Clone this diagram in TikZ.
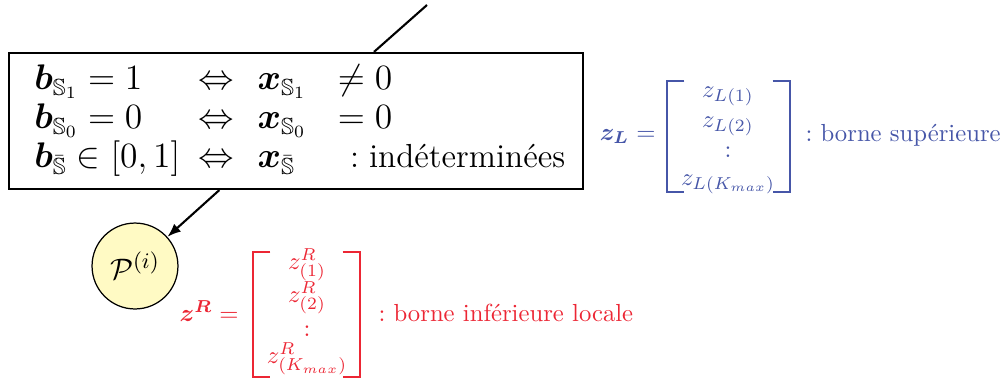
\documentclass[tikz,border=0pt]{standalone}
\usepackage{amsmath,amssymb,bm}
\usetikzlibrary{arrows.meta}
\definecolor{zblue}{RGB}{70,86,168}
\definecolor{zred}{RGB}{236,38,52}
\definecolor{pfill}{RGB}{255,250,196}
\tikzset{
  link/.style={line width=0.85pt},
  brk/.style={line width=0.55pt},
  entry/.style={inner sep=0pt,anchor=base},
}
\newcommand{\cA}[1]{\makebox[66.4pt][l]{$#1$}}
\newcommand{\cB}{\makebox[24pt][l]{$\Leftrightarrow$}}
\newcommand{\cC}[1]{\makebox[32.5pt][l]{$#1$}}
\begin{document}
\begin{tikzpicture}[x=0.405pt,y=-0.405pt]
\useasboundingbox (0,0) rectangle (1008,381);

% main box
\node[draw,line width=0.85pt,minimum width=232.5pt,minimum height=55.1pt,inner sep=0pt] (box) at (296,121)
{\fontsize{13.5}{15.8}\selectfont\makebox[232.5pt][l]{\begin{tabular}{@{\hspace{10.3pt}}l@{}}
\cA{\bm{b}_{\mathbb{S}_1}=1}\cB\cC{\bm{x}_{\mathbb{S}_1}}$\neq 0$\\
\cA{\bm{b}_{\mathbb{S}_0}=0}\cB\cC{\bm{x}_{\mathbb{S}_0}}$= 0$\\
\cA{\bm{b}_{\bar{\mathbb{S}}}\in[0,1]}\cB\cC{\bm{x}_{\bar{\mathbb{S}}}}\hspace{5pt}:\hspace{4pt}indéterminées
\end{tabular}}};

% circle
\node[circle,draw,line width=0.5pt,fill=pfill,minimum size=34.8pt,inner sep=0pt] (P) at (135,266) {\fontsize{13}{15}\selectfont$\mathcal{P}^{(i)}$};

% connectors
\coordinate (top) at (427,5);
\draw[link] (top) -- (box);
\draw[link,-{Latex[length=5.5pt,width=4.2pt]}] (box) -- (P);

% blue vector
\begin{scope}[zblue]
\node[entry,anchor=base east] (zL) at (656,140) {$\bm{z}_{\bm{L}}=$};
\coordinate (bl1) at (667,81); \coordinate (bl2) at (667,192);
\coordinate (br1) at (790,81); \coordinate (br2) at (790,192);
\draw[brk] ([xshift=7]bl1) -- (bl1) -- (bl2) -- ([xshift=7]bl2);
\draw[brk] ([xshift=-7]br1) -- (br1) -- (br2) -- ([xshift=-7]br2);
\node[entry] (zL1) at (728,97) {$z_{L(1)}$};
\node[entry] (zL2) at (728,127) {$z_{L(2)}$};
\node[entry] (zL3) at (728,157) {$:$};
\node[entry] (zL4) at (728,185) {$z_{L(K_{max})}$};
\node[entry,anchor=base west] (supt) at (805,141) {$:$ borne supérieure};
\end{scope}

% red vector
\begin{scope}[zred]
\node[entry,anchor=base east] (zR) at (239,321) {$\bm{z}^{\bm{R}}=$};
\coordinate (rl1) at (253,252); \coordinate (rl2) at (253,377);
\coordinate (rr1) at (360,252); \coordinate (rr2) at (360,377);
\draw[brk] ([xshift=7]rl1) -- (rl1) -- (rl2) -- ([xshift=7]rl2);
\draw[brk] ([xshift=-7]rr1) -- (rr1) -- (rr2) -- ([xshift=-7]rr2);
\node[entry] (zR1) at (307,269) {$z^{R}_{(1)}$};
\node[entry] (zR2) at (307,302) {$z^{R}_{(2)}$};
\node[entry] (zR3) at (307,336) {$:$};
\node[entry] (zR4) at (307,363) {$z^{R}_{(K_{max})}$};
\node[entry,anchor=base west] (inft) at (378,321) {$:$ borne inférieure locale};
\end{scope}
\end{tikzpicture}
\end{document}
